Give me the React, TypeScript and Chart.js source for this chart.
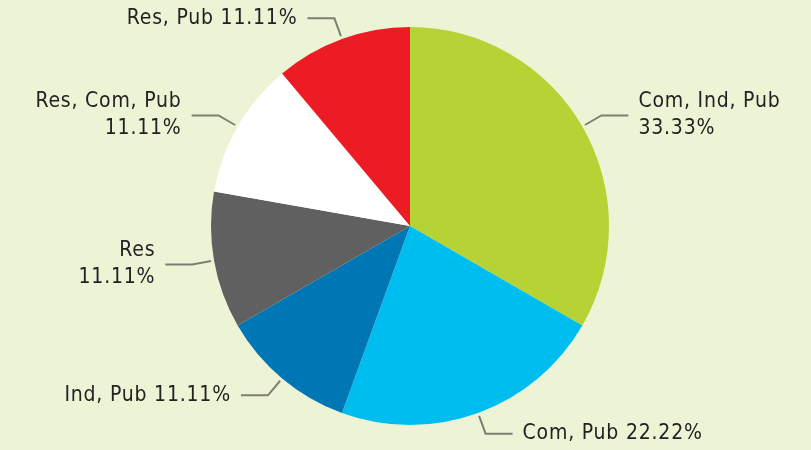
import React, { useEffect, useRef } from "react";
import { Chart, registerables } from "chart.js";

Chart.register(...registerables);

const categories = ["Com, Ind, Pub", "Com, Pub", "Ind, Pub", "Res", "Res, Com, Pub", "Res, Pub"];
const shares = [33.33, 22.22, 11.11, 11.11, 11.11, 11.11];
const sliceColors = ["#b5d334", "#00bdf0", "#0077b5", "#606060", "#ffffff", "#ed1c24"];
const twoLineLabel = [true, false, false, true, true, false];

const BG = "#edf4d6";
const FONT = "21px 'DejaVu Sans Condensed', 'DejaVu Sans', sans-serif";

const leaderPlugin = {
  id: "leaderLabels",
  afterDatasetsDraw(chart: any) {
    const ctx = chart.ctx;
    const meta = chart.getDatasetMeta(0);
    ctx.save();
    ctx.font = FONT;
    try {
      (ctx as any).letterSpacing = "0.8px";
    } catch (e) {}
    meta.data.forEach((arc: any, i: number) => {
      const { x, y, startAngle, endAngle, outerRadius } = arc.getProps(
        ["x", "y", "startAngle", "endAngle", "outerRadius"],
        true
      );
      const mid = (startAngle + endAngle) / 2;
      const cx = Math.cos(mid);
      const cy = Math.sin(mid);
      const sx = x + cx * (outerRadius + 3);
      const sy = y + cy * (outerRadius + 3);
      const ex = x + cx * (outerRadius + 22);
      const ey = y + cy * (outerRadius + 22);
      const right = cx >= 0;
      const hx = ex + (right ? 27 : -27);
      ctx.strokeStyle = "#7d7f74";
      ctx.lineWidth = 2;
      ctx.beginPath();
      ctx.moveTo(sx, sy);
      ctx.lineTo(ex, ey);
      ctx.lineTo(hx, ey);
      ctx.stroke();
      const pct = shares[i].toFixed(2) + "%";
      const lines = twoLineLabel[i] ? [categories[i], pct] : [categories[i] + " " + pct];
      ctx.fillStyle = "#222222";
      ctx.textAlign = right ? "left" : "right";
      ctx.textBaseline = "middle";
      const tx = hx + (right ? 10 : -10);
      const lh = 27;
      const y0 = ey - ((lines.length - 1) * lh) / 2;
      lines.forEach((t, k) => ctx.fillText(t, tx, y0 + k * lh));
    });
    ctx.restore();
  },
};

export default function App() {
  const ref = useRef<HTMLCanvasElement | null>(null);
  useEffect(() => {
    document.body.style.margin = "0";
    document.body.style.background = BG;
    const chart = new Chart(ref.current as HTMLCanvasElement, {
      type: "pie",
      data: {
        labels: categories,
        datasets: [
          {
            data: shares,
            backgroundColor: sliceColors,
            borderWidth: 0,
          },
        ],
      },
      options: {
        animation: false,
        responsive: false,
        layout: { padding: { top: 27, bottom: 25, left: 20, right: 11 } },
        plugins: { legend: { display: false }, tooltip: { enabled: false } },
      },
      plugins: [leaderPlugin],
    });
    return () => chart.destroy();
  }, []);
  return (
    <div style={{ width: 811, height: 450, background: BG }}>
      <canvas ref={ref} width={811} height={450} style={{ display: "block" }} />
    </div>
  );
}
